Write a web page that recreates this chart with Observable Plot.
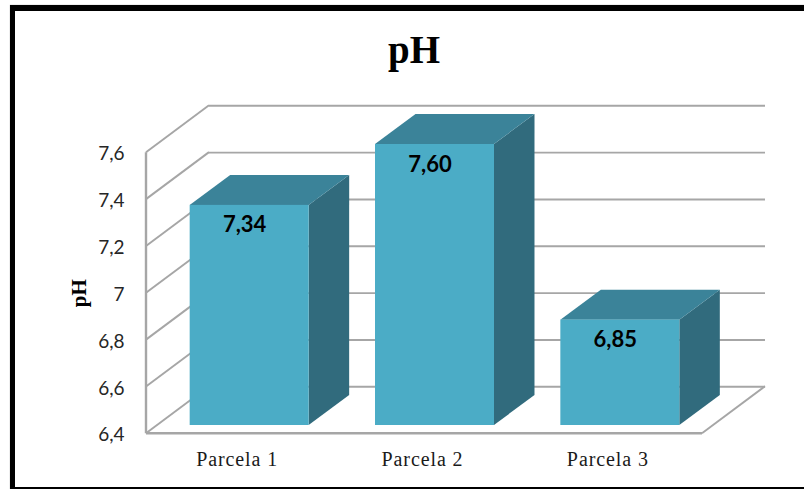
<!DOCTYPE html>
<html lang="es">
<head>
<meta charset="utf-8">
<title>pH</title>
<script src="https://cdn.jsdelivr.net/npm/d3@7"></script>
<script src="https://cdn.jsdelivr.net/npm/@observablehq/plot@0.6"></script>
<style>
  html, body { margin: 0; padding: 0; background: #fff; }
  #chart { position: relative; width: 804px; height: 489px; overflow: hidden; }
  #border {
    position: absolute; left: 10px; top: 5px; right: -10px; bottom: 0;
    border-left: 5px solid #000; border-top: 6px solid #000; border-bottom: 2.5px solid #000;
    box-shadow: 0 0 1px #999;
  }
  #title {
    position: absolute; left: 314px; width: 200px; top: 28px; margin: 0; text-align: center;
    font: bold 39px/44px "Liberation Serif", serif; color: #000;
  }
  svg { position: absolute; left: 0; top: 0; }
  g[aria-label="x-axis tick label"] text { letter-spacing: 0.9px; }
</style>
</head>
<body>
<div id="chart">
  <div id="border"></div>
  <h1 id="title">pH</h1>
</div>
<script>
// Soil pH per plot
const parcelas = ["Parcela 1", "Parcela 2", "Parcela 3"];
const phValues = [7.34, 7.60, 6.85];
const phLabels = ["7,34", "7,60", "6,85"];
const yTicks = [6.4, 6.6, 6.8, 7.0, 7.2, 7.4, 7.6];
const yTickLabels = ["6,4", "6,6", "6,8", "7", "7,2", "7,4", "7,6"];

const table = parcelas.map((name, i) => ({name, value: phValues[i], label: phLabels[i]}));
const floorValue = yTicks[0];

// Oblique projection: how far the back wall and each bar's depth shift on screen
const wall = {dx: 63, dy: -47};
const barShift = {dx: 10.5, dy: -8.3};
const barDepth = {dx: 40.5, dy: -30};

const colors = {front: "#4bacc6", top: "#3b8399", side: "#316b7d", grid: "#a6a6a6"};
const sansFont = "Lato, 'Open Sans', sans-serif";
const serifFont = "'Liberation Serif', serif";
const gridWidth = 1.9;

// Side walls and floor: diagonals from each tick on the front axis to the back wall
function wallDiagonals(index, {y}, values, {width, marginRight, marginLeft}) {
  const g = d3.create("svg:g").attr("fill", "none").attr("stroke", colors.grid);
  const left = marginLeft;
  const right = width - marginRight;
  const y0 = y(floorValue);
  g.selectAll("line").data(yTicks).join("line")
    .attr("stroke-width", gridWidth)
    .attr("x1", left).attr("y1", d => y(d))
    .attr("x2", left + wall.dx).attr("y2", d => y(d) + wall.dy);
  g.append("line").attr("stroke-width", gridWidth)
    .attr("x1", right).attr("y1", y0)
    .attr("x2", right + wall.dx).attr("y2", y0 + wall.dy);
  g.append("line").attr("stroke-width", 2.4)
    .attr("x1", left).attr("y1", y(yTicks[yTicks.length - 1]))
    .attr("x2", left).attr("y2", y0);
  g.append("line").attr("stroke-width", 2.6)
    .attr("x1", left).attr("y1", y0)
    .attr("x2", right).attr("y2", y0);
  return g.node();
}

// Top and side faces of each bar, drawn behind its front face
function barFaces(index, {x, y}) {
  const g = d3.create("svg:g");
  const w = x.bandwidth();
  for (const d of table) {
    const x0 = x(d.name) + barShift.dx;
    const x1 = x0 + w;
    const yt = y(d.value) + barShift.dy;
    const yb = y(floorValue) + barShift.dy;
    g.append("path").attr("fill", colors.side)
      .attr("d", `M${x1},${yt}L${x1 + barDepth.dx},${yt + barDepth.dy}L${x1 + barDepth.dx},${yb + barDepth.dy}L${x1},${yb}Z`);
    g.append("path").attr("fill", colors.top)
      .attr("d", `M${x0},${yt}L${x0 + barDepth.dx},${yt + barDepth.dy}L${x1 + barDepth.dx},${yt + barDepth.dy}L${x1},${yt}Z`);
  }
  return g.node();
}

const plot = Plot.plot({
  width: 804,
  height: 489,
  marginLeft: 146,
  marginRight: 102,
  marginTop: 152.3,
  marginBottom: 55.7,
  style: {background: "transparent", overflow: "visible"},
  x: {domain: parcelas, paddingInner: 0.358, paddingOuter: 0.179, round: false, label: null, axis: null},
  y: {domain: [6.4, 7.6], label: null, axis: null},
  marks: [
    Plot.ruleY(yTicks, {y: d => d, stroke: colors.grid, strokeWidth: gridWidth, dx: wall.dx, dy: wall.dy}),
    wallDiagonals,
    barFaces,
    Plot.rectY(table, {
      x: "name",
      y1: () => floorValue,
      y2: "value",
      fill: colors.front,
      dx: barShift.dx,
      dy: barShift.dy
    }),
    Plot.text(table, {
      x: "name",
      y: "value",
      text: "label",
      dx: barShift.dx - 5,
      dy: barShift.dy + 20,
      fill: "#000",
      fontSize: 22,
      fontWeight: 700,
      fontFamily: sansFont
    }),
    Plot.axisY(yTicks, {
      anchor: "left",
      tickSize: 0,
      tickPadding: 22,
      tickFormat: (d, i) => yTickLabels[i],
      fontSize: 19,
      fontFamily: sansFont,
      fill: "#262626",
      dy: 1.5,
      label: null
    }),
    Plot.axisX(parcelas, {
      anchor: "bottom",
      tickSize: 0,
      tickPadding: 18,
      dx: -2,
      fontSize: 20,
      fontFamily: serifFont,
      fill: "#1a1a1a",
      label: null
    }),
    Plot.text(["pH"], {
      frameAnchor: "left",
      textAnchor: "middle",
      dx: -67,
      rotate: -90,
      fill: "#000",
      fontSize: 21,
      fontWeight: 700,
      fontFamily: serifFont
    })
  ]
});
document.getElementById("chart").appendChild(plot);
</script>
</body>
</html>
